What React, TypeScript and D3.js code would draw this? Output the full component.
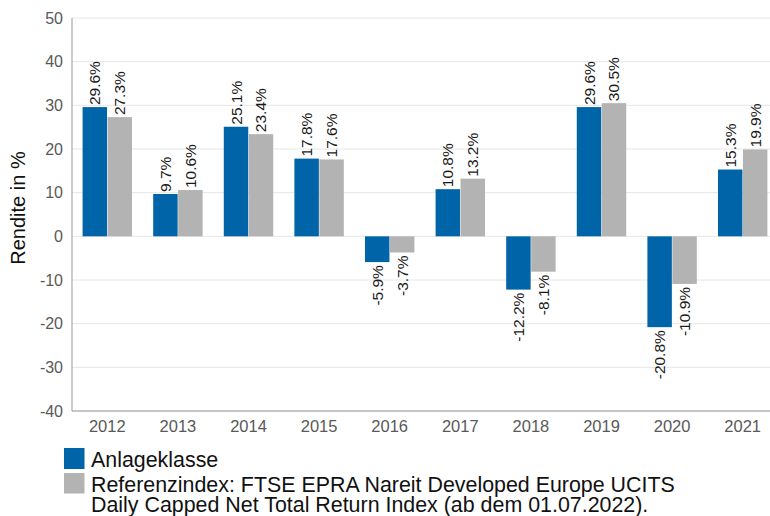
import React from "react";
import * as d3 from "d3";

const years = ["2012", "2013", "2014", "2015", "2016", "2017", "2018", "2019", "2020", "2021"];
const anlage = [29.6, 9.7, 25.1, 17.8, -5.9, 10.8, -12.2, 29.6, -20.8, 15.3];
const referenz = [27.3, 10.6, 23.4, 17.6, -3.7, 13.2, -8.1, 30.5, -10.9, 19.9];
const yTicks = [-40, -30, -20, -10, 0, 10, 20, 30, 40, 50];
const seriesNames = ["Anlageklasse", "Referenzindex: FTSE EPRA Nareit Developed Europe UCITS", "Daily Capped Net Total Return Index (ab dem 01.07.2022)."];
const colors = ["#0064A8", "#B3B3B3"];

const W = 770, H = 516;
const left = 72, top = 18, bottom = 411;
const plotRight = 778;
const font = "'Liberation Sans', Arial, sans-serif";

export default function App() {
  const y = d3.scaleLinear().domain([-40, 50]).range([bottom, top]);
  const x = d3.scaleBand().domain(years).range([left, plotRight]).paddingInner(0.3).paddingOuter(0.15);
  const xs = d3.scaleBand().domain(["a", "r"]).range([0, x.bandwidth()]).paddingInner(0.02);
  const fmt = (v: number) => v.toFixed(1) + "%";
  const series = [anlage, referenz];
  return (
    <svg width={W} height={H} style={{ position: "absolute", left: 0, top: 0, fontFamily: font }}>
      <rect width={W} height={H} fill="#fff" />
      {yTicks.map(t => (
        <g key={t}>
          <line x1={left} x2={W} y1={y(t)} y2={y(t)} stroke="#e6e6e6" strokeWidth={1} />
          <text x={left - 9} y={y(t)} dy="0.35em" textAnchor="end" fontSize={16} fill="#595959">{t}</text>
        </g>
      ))}
      {series.map((vals, si) => vals.map((v, i) => {
        const bx = (x(years[i]) as number) + (xs(si === 0 ? "a" : "r") as number);
        const bw = xs.bandwidth();
        const y0 = y(Math.max(0, v)), y1 = y(Math.min(0, v));
        const cx = bx + bw / 2;
        const ly = v >= 0 ? y0 - 2 : y1 + 3;
        return (
          <g key={si + "-" + i}>
            <rect x={bx} y={y0} width={bw} height={y1 - y0} fill={colors[si]} />
            <text transform={`translate(${cx + 5.5},${ly}) rotate(-90)`} textAnchor={v >= 0 ? "start" : "end"} fontSize={15.5} fill="#1a1a1a">{fmt(v)}</text>
          </g>
        );
      }))}
      <line x1={left} x2={left} y1={top} y2={bottom} stroke="#999" strokeWidth={1} />
      <line x1={left} x2={W} y1={bottom} y2={bottom} stroke="#999" strokeWidth={1} />
      {years.map(yr => (
        <text key={yr} x={(x(yr) as number) + x.bandwidth() / 2} y={432} textAnchor="middle" fontSize={16.5} fill="#595959">{yr}</text>
      ))}
      <rect x={64} y={448} width={20.5} height={21} fill={colors[0]} />
      <rect x={64} y={473} width={20.5} height={20.5} fill={colors[1]} />
      <text x={91} y={467} fontSize={21.4} fill="#111">{seriesNames[0]}</text>
      <text x={91} y={492} fontSize={21.4} fill="#111">{seriesNames[1]}</text>
      <text x={91} y={512} fontSize={21.4} fill="#111">{seriesNames[2]}</text>
      <text transform={`translate(25,208) rotate(-90)`} textAnchor="middle" fontSize={20} fill="#111">Rendite in %</text>
    </svg>
  );
}
